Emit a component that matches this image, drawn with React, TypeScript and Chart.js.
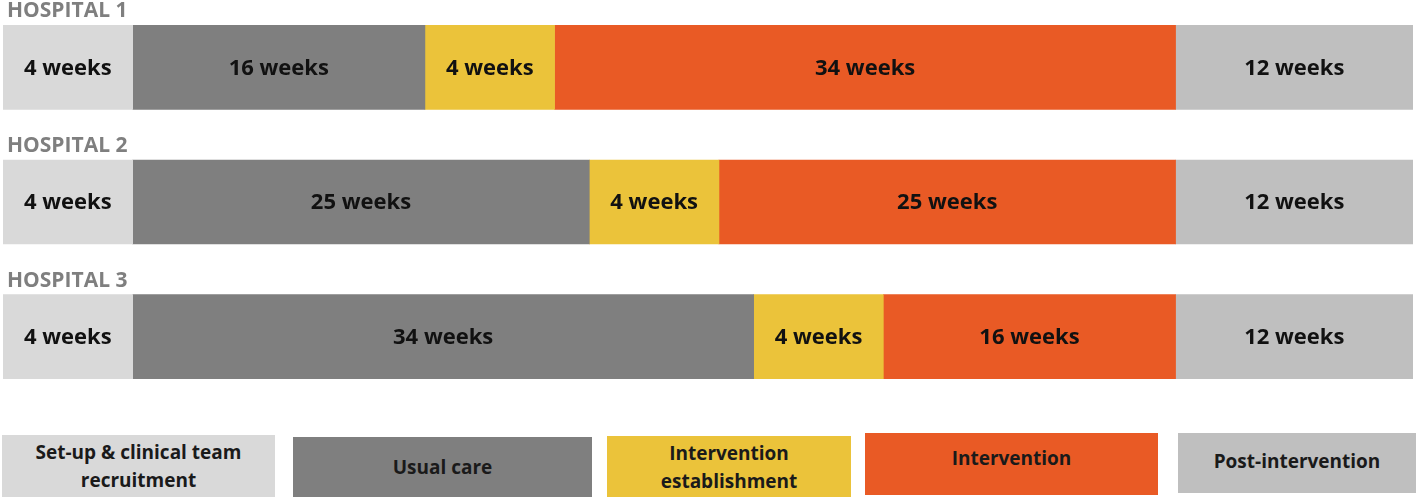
import React, { useEffect, useRef } from 'react';
import { Chart, registerables } from 'chart.js';

Chart.register(...registerables);

// ---- Data ----
const hospitals = ['HOSPITAL 1', 'HOSPITAL 2', 'HOSPITAL 3'];
const phaseNames = [
  'Set-up & clinical team recruitment',
  'Usual care',
  'Intervention establishment',
  'Intervention',
  'Post-intervention',
];
const legendLines = [
  ['Set-up & clinical team', 'recruitment'],
  ['Usual care'],
  ['Intervention', 'establishment'],
  ['Intervention'],
  ['Post-intervention'],
];
const setupWeeks = [4, 4, 4];
const usualCareWeeks = [16, 25, 34];
const establishmentWeeks = [4, 4, 4];
const interventionWeeks = [34, 25, 16];
const postInterventionWeeks = [12, 12, 12];
const phaseWeeks = [setupWeeks, usualCareWeeks, establishmentWeeks, interventionWeeks, postInterventionWeeks];

// ---- Styles / layout ----
const phaseColors = ['#d9d9d9', '#7f7f7f', '#ebc33a', '#e95a25', '#bfbfbf'];
// The original is a schematic: fixed-length phases are drawn with a fixed
// (not-to-scale) span, in week units of the x scale; others are to scale.
const schematicSpan: (number | null)[] = [7.1, null, 7.1, null, 13];
const legendLayout = [
  { left: 2, top: 435, width: 273, height: 62, shift: 0 },
  { left: 293, top: 437, width: 299, height: 60, shift: 0 },
  { left: 607, top: 436, width: 244, height: 61, shift: 0 },
  { left: 865, top: 433, width: 293, height: 62, shift: -6 },
  { left: 1178, top: 433, width: 238, height: 60, shift: -2 },
];
const FONT = '"Open Sans", "DejaVu Sans", sans-serif';

const labelPlugin = {
  id: 'segmentLabels',
  afterDatasetsDraw(chart: any) {
    const ctx = chart.ctx;
    ctx.save();
    ctx.font = `bold 22px ${FONT}`;
    ctx.fillStyle = '#111111';
    ctx.textAlign = 'center';
    ctx.textBaseline = 'middle';
    chart.data.datasets.forEach((_ds: any, di: number) => {
      const meta = chart.getDatasetMeta(di);
      meta.data.forEach((el: any, i: number) => {
        const p = el.getProps(['x', 'base', 'y'], true);
        ctx.fillText(`${phaseWeeks[di][i]} weeks`, (p.x + p.base) / 2, p.y + 1);
      });
    });
    const meta0 = chart.getDatasetMeta(0);
    ctx.font = `bold 21px ${FONT}`;
    ctx.fillStyle = '#7f7f7f';
    ctx.textAlign = 'left';
    ctx.textBaseline = 'alphabetic';
    meta0.data.forEach((el: any, i: number) => {
      const p = el.getProps(['y', 'height'], true);
      ctx.fillText(hospitals[i], 7, p.y - p.height / 2 - 8);
    });
    ctx.restore();
  },
};

export default function App() {
  const canvasRef = useRef<HTMLCanvasElement | null>(null);

  useEffect(() => {
    if (!canvasRef.current) return;
    const totalSpan = phaseWeeks.reduce(
      (s, w, pi) => s + (schematicSpan[pi] ?? w[0]),
      0
    );
    const chart = new Chart(canvasRef.current, {
      type: 'bar',
      data: {
        labels: hospitals,
        datasets: phaseNames.map((name, pi) => ({
          label: name,
          data: phaseWeeks[pi].map((w) => schematicSpan[pi] ?? w),
          backgroundColor: phaseColors[pi],
          borderWidth: 0,
          barThickness: 84,
        })),
      },
      options: {
        indexAxis: 'y',
        responsive: false,
        animation: false,
        layout: { padding: { left: 3, right: 5, top: 0, bottom: 0 } },
        scales: {
          x: { stacked: true, display: false, min: 0, max: totalSpan },
          y: { stacked: true, display: false, offset: true },
        },
        plugins: {
          legend: { display: false },
          tooltip: { enabled: false },
        },
      },
      plugins: [labelPlugin],
    });
    return () => chart.destroy();
  }, []);

  return (
    <div
      style={{
        position: 'absolute',
        left: 0,
        top: 0,
        width: 1418,
        height: 500,
        background: '#ffffff',
        fontFamily: FONT,
      }}
    >
      <canvas
        ref={canvasRef}
        width={1418}
        height={404}
        style={{ position: 'absolute', left: 0, top: 0, width: 1418, height: 404 }}
      />
      {phaseNames.map((name, pi) => {
        const l = legendLayout[pi];
        return (
          <div
            key={name}
            style={{
              position: 'absolute',
              left: l.left,
              top: l.top,
              width: l.width,
              height: l.height,
              background: phaseColors[pi],
              display: 'flex',
              flexDirection: 'column',
              alignItems: 'center',
              justifyContent: 'center',
              boxSizing: 'border-box',
              paddingBottom: l.shift < 0 ? -l.shift * 2 : 0,
            }}
          >
            {legendLines[pi].map((line) => (
              <div
                key={line}
                style={{
                  fontWeight: 700,
                  fontSize: 19,
                  lineHeight: '28px',
                  color: '#1a1a1a',
                  whiteSpace: 'nowrap',
                }}
              >
                {line}
              </div>
            ))}
          </div>
        );
      })}
    </div>
  );
}
